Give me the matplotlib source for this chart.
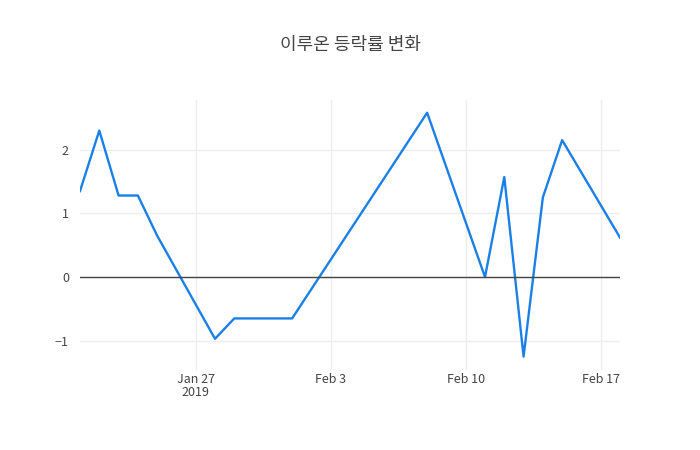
import matplotlib
matplotlib.use("Agg")
import matplotlib.pyplot as plt
import datetime as dt

plt.rcParams['font.family'] = ['Noto Sans CJK KR', 'DejaVu Sans']

dates = ["2019-01-21","2019-01-22","2019-01-23","2019-01-24","2019-01-25","2019-01-28",
         "2019-01-29","2019-01-30","2019-01-31","2019-02-01","2019-02-08","2019-02-11",
         "2019-02-12","2019-02-13","2019-02-14","2019-02-15","2019-02-18"]
values = [1.35, 2.3, 1.28, 1.28, 0.65, -0.97, -0.65, -0.65, -0.65, -0.65, 2.58, 0.0,
          1.57, -1.25, 1.25, 2.15, 0.62]
title = "이루온 등락률 변화"
tick_dates = ["2019-01-27","2019-02-03","2019-02-10","2019-02-17"]
tick_labels = ["Jan 27\n2019","Feb 3","Feb 10","Feb 17"]

x = [dt.datetime.fromisoformat(d) for d in dates]
fig = plt.figure(figsize=(7,4.5), dpi=100)
ax = fig.add_axes([80/700, 1-370/450, 540/700, 270/450])
ax.plot(x, values, color='#1a80e8', lw=1.7)
ax.set_xlim(x[0], x[-1])
ax.set_ylim(-1.46, 2.78)
ax.set_yticks([-1,0,1,2])
ax.set_yticklabels(["−1","0","1","2"])
ax.set_xticks([dt.datetime.fromisoformat(d) for d in tick_dates])
ax.set_xticklabels(tick_labels, linespacing=1.0)
ax.grid(color='#eeeeee', lw=1)
ax.axhline(0, color='#444444', lw=1)
for s in ax.spines.values():
    s.set_visible(False)
ax.tick_params(length=0, labelsize=9, colors='#444444')
ax.tick_params(axis='x', pad=2)
ax.tick_params(axis='y', pad=8)
fig.text(0.5, 1-45/450, title, ha='center', va='center', fontsize=13, color='#444444')
fig.savefig("out.png", dpi=100)
